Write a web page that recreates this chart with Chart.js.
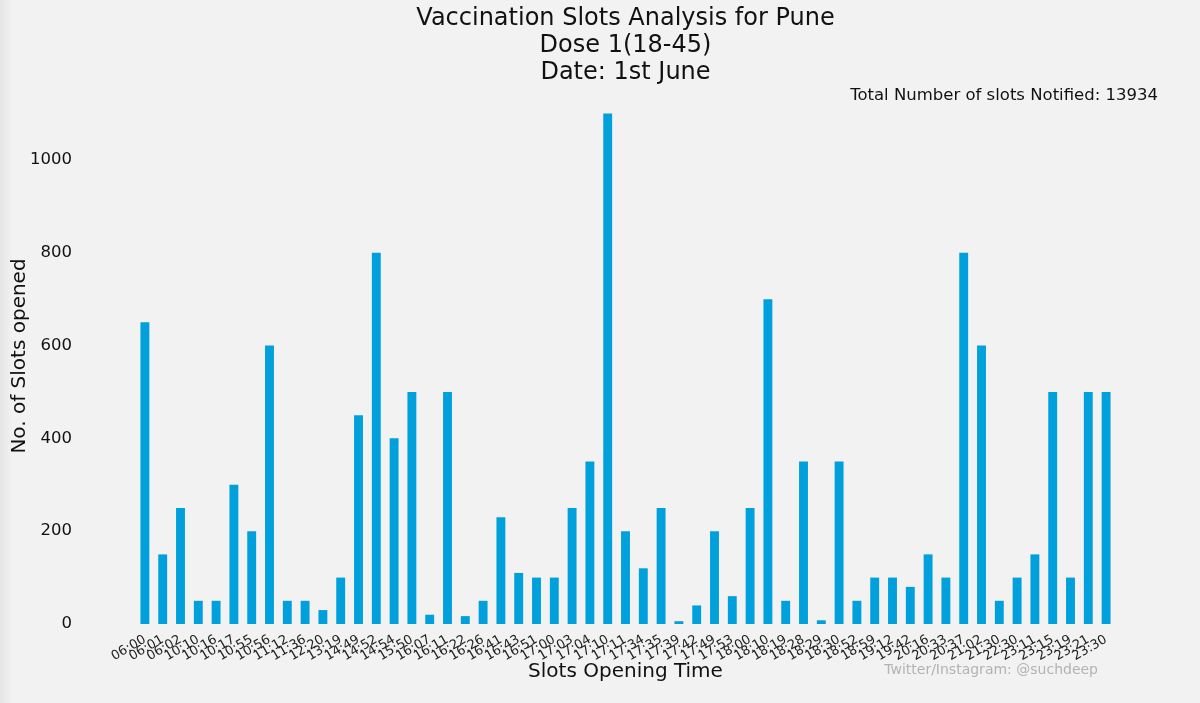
<!DOCTYPE html>
<html>
<head>
<meta charset="utf-8">
<script src="https://cdn.jsdelivr.net/npm/chart.js@4.4.1/dist/chart.umd.min.js"></script>
<style>
  html, body { margin: 0; padding: 0; background: #f2f2f2; }
  #wrap { width: 1200px; height: 703px; }
</style>
</head>
<body>
<div id="wrap"><canvas id="chartjs_bar"></canvas></div>
<script>
const slotTimes = ['06:00', '06:01', '06:02', '10:10', '10:16', '10:17', '10:55', '10:56', '11:12', '11:36',
    '12:20', '13:19', '14:49', '14:52', '14:54', '15:50', '16:07', '16:11', '16:22', '16:26',
    '16:41', '16:43', '16:51', '17:00', '17:03', '17:04', '17:10', '17:11', '17:34', '17:35',
    '17:39', '17:42', '17:49', '17:53', '18:00', '18:10', '18:19', '18:28', '18:29', '18:30',
    '18:52', '18:59', '19:12', '19:42', '20:16', '20:33', '20:37', '21:02', '21:30', '22:30',
    '23:11', '23:15', '23:19', '23:21', '23:30'];

const slotsOpened = [650, 150, 250, 50, 50, 300, 200, 600, 50, 50,
    30, 100, 450, 800, 400, 500, 20, 500, 17, 50,
    230, 110, 100, 100, 250, 350, 1100, 200, 120, 250,
    6, 40, 200, 60, 250, 700, 50, 350, 8, 350,
    50, 100, 100, 80, 150, 100, 800, 600, 50, 100,
    150, 500, 100, 500, 500];

const yTicks = [0, 200, 400, 600, 800, 1000];
const totalSlots = 13934;

const FONT = "'DejaVu Sans', sans-serif";

// page background + the two loose text bits
const extras = {
    id: 'extras',
    beforeDraw(chart) {
        const { ctx, width, height } = chart;
        ctx.save();
        ctx.fillStyle = '#f2f2f2';
        ctx.fillRect(0, 0, width, height);
        const g = ctx.createLinearGradient(0, 0, 12, 0);
        g.addColorStop(0, '#e4e4e4');
        g.addColorStop(1, '#f2f2f2');
        ctx.fillStyle = g;
        ctx.fillRect(0, 0, 12, height);
        ctx.restore();
    },
    afterDraw(chart) {
        const { ctx } = chart;
        ctx.save();
        ctx.textBaseline = 'middle';
        ctx.textAlign = 'right';
        ctx.fillStyle = '#111';
        ctx.font = '16.5px ' + FONT;
        ctx.fillText('Total Number of slots Notified: ' + totalSlots, 1158, 96);
        ctx.fillStyle = '#b3b3b3';
        ctx.font = '14px ' + FONT;
        ctx.fillText('Twitter/Instagram: @suchdeep', 1098, 670);
        ctx.restore();
    }
};

new Chart(document.getElementById('chartjs_bar'), {
    type: 'bar',
    data: {
        labels: slotTimes,
        datasets: [{
            data: slotsOpened,
            backgroundColor: '#00a0dc',
            borderWidth: 0,
            barPercentage: 0.5,
            categoryPercentage: 1.0
        }]
    },
    plugins: [extras],
    options: {
        responsive: true,
        maintainAspectRatio: false,
        animation: false,
        devicePixelRatio: 1,
        layout: { padding: { left: 0, right: 85, top: 0, bottom: 0 } },
        plugins: {
            legend: { display: false },
            tooltip: { enabled: false },
            title: {
                display: true,
                fullSize: false,
                text: ['Vaccination Slots Analysis for Pune', 'Dose 1(18-45)', 'Date: 1st June'],
                color: '#111',
                font: { family: FONT, size: 24, weight: 'normal', lineHeight: 1.125 },
                padding: { top: 5, bottom: 2 }
            }
        },
        scales: {
            x: {
                grid: { display: false },
                border: { display: false },
                ticks: {
                    autoSkip: false,
                    minRotation: 30,
                    maxRotation: 30,
                    padding: 0,
                    color: '#222',
                    font: { family: FONT, size: 13 }
                },
                title: {
                    display: true,
                    text: 'Slots Opening Time',
                    color: '#111',
                    font: { family: FONT, size: 20 },
                    padding: { top: 0, bottom: 19 }
                },
                afterFit(scale) { scale.height = 79; }
            },
            y: {
                min: 0,
                max: 1155,
                grid: { display: false },
                border: { display: false },
                afterBuildTicks(scale) { scale.ticks = yTicks.map(v => ({ value: v })); },
                ticks: {
                    padding: 56,
                    color: '#111',
                    font: { family: FONT, size: 16.5 },
                    callback: (value) => String(value)
                },
                title: {
                    display: true,
                    text: 'No. of Slots opened',
                    color: '#111',
                    font: { family: FONT, size: 20 },
                    padding: { top: 8, bottom: 0 }
                },
                afterFit(scale) { scale.width = 136; }
            }
        }
    }
});
</script>
</body>
</html>
